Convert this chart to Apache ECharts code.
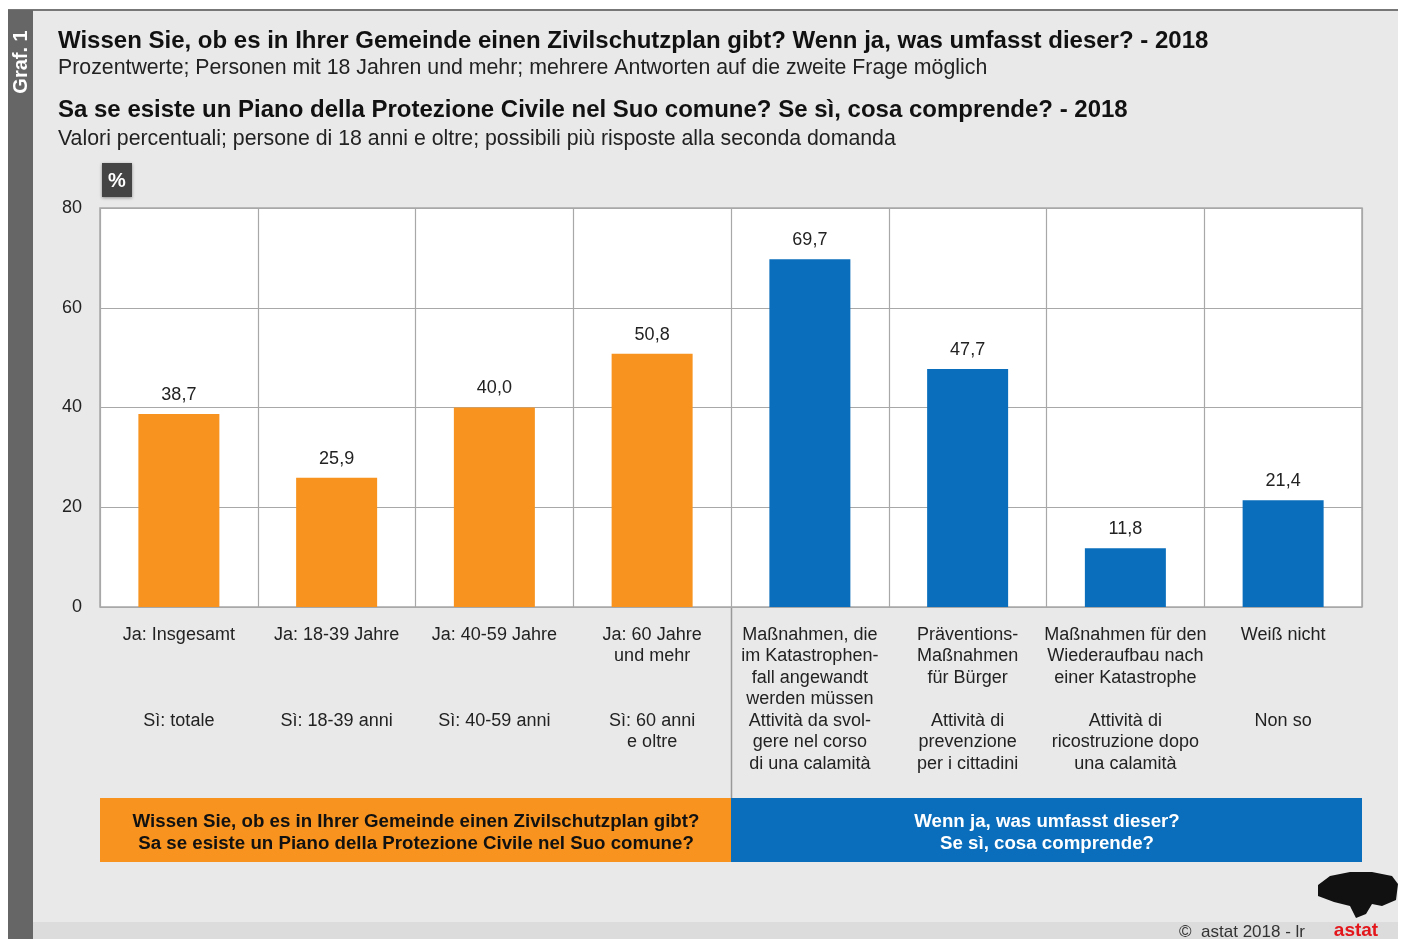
<!DOCTYPE html>
<html>
<head>
<meta charset="utf-8">
<style>
  html, body { margin: 0; padding: 0; background: #fff; }
  #chart { width: 1402px; height: 939px; }
</style>
<script src="https://cdn.jsdelivr.net/npm/echarts@6/dist/echarts.min.js"></script>
</head>
<body>
<div id="chart"></div>
<script>
// categories: german / italian label text
const categories = ['insgesamt', '18-39', '40-59', '60+', 'katastrophe', 'praevention', 'wiederaufbau', 'weiss_nicht'];
const labelsDe = [
  'Ja: Insgesamt',
  'Ja: 18-39 Jahre',
  'Ja: 40-59 Jahre',
  'Ja: 60 Jahre\nund mehr',
  'Maßnahmen, die\nim Katastrophen-\nfall angewandt\nwerden müssen',
  'Präventions-\nMaßnahmen\nfür Bürger',
  'Maßnahmen für den\nWiederaufbau nach\neiner Katastrophe',
  'Weiß nicht'
];
const labelsIt = [
  'Sì: totale',
  'Sì: 18-39 anni',
  'Sì: 40-59 anni',
  'Sì: 60 anni\ne oltre',
  'Attività da svol-\ngere nel corso\ndi una calamità',
  'Attività di\nprevenzione\nper i cittadini',
  'Attività di\nricostruzione dopo\nuna calamità',
  'Non so'
];
const values = [38.7, 25.9, 40.0, 50.8, 69.7, 47.7, 11.8, 21.4];
// first 4 = question 1 (orange), rest = question 2 (blue)
const groups = ['q1', 'q1', 'q1', 'q1', 'q2', 'q2', 'q2', 'q2'];
const yTicks = [0, 20, 40, 60, 80];

const ORANGE = '#f7931e';
const BLUE = '#0a6ebd';
const FONT = '"Liberation Sans", Arial, sans-serif';

const chart = echarts.init(document.getElementById('chart'));

function catLabel(value, idx) {
  const de = labelsDe[idx].split('\n');
  while (de.length < 4) de.push('');
  return de.join('\n') + '\n' + labelsIt[idx];
}

const option = {
  backgroundColor: '#fff',
  textStyle: { fontFamily: FONT },
  grid: {
    left: 100, right: 40, top: 208, bottom: 332,
    show: true, backgroundColor: '#fff', borderColor: '#a8a8a8', borderWidth: 1.5
  },
  xAxis: {
    type: 'category',
    data: categories,
    axisLine: { show: false },
    axisTick: { show: false },
    splitLine: { show: true, interval: 0, lineStyle: { color: '#a8a8a8', width: 1.2 } },
    axisLabel: {
      interval: 0,
      margin: 17,
      color: '#222',
      fontSize: 18,
      lineHeight: 21.5,
      fontFamily: FONT,
      formatter: catLabel
    }
  },
  yAxis: {
    type: 'value',
    min: yTicks[0],
    max: yTicks[yTicks.length - 1],
    interval: 20,
    axisLine: { show: false },
    axisTick: { show: false },
    splitLine: { lineStyle: { color: '#a8a8a8', width: 1.2 } },
    axisLabel: { color: '#222', fontSize: 18, margin: 18, fontFamily: FONT }
  },
  series: [{
    type: 'bar',
    barWidth: 81,
    data: values.map((v, i) => ({
      value: v,
      itemStyle: { color: groups[i] === 'q1' ? ORANGE : BLUE }
    })),
    label: {
      show: true,
      position: 'top',
      distance: 10,
      color: '#222',
      fontSize: 18,
      fontFamily: FONT,
      formatter: p => p.value.toFixed(1).replace('.', ',')
    }
  }],
  graphic: [
    // panel background
    { type: 'rect', z: -10, shape: { x: 8, y: 10, width: 1390, height: 929 }, style: { fill: '#e9e9e9' } },
    { type: 'line', z: -9, shape: { x1: 8, y1: 10, x2: 1398, y2: 10 }, style: { stroke: '#777', lineWidth: 2 } },
    { type: 'rect', z: -9, shape: { x: 33, y: 922, width: 1365, height: 17 }, style: { fill: '#dcdcdc' } },
    { type: 'rect', z: -8, shape: { x: 8, y: 10, width: 25, height: 929 }, style: { fill: '#666' } },
    {
      type: 'text', x: 21, y: 62, rotation: Math.PI / 2,
      style: { text: 'Graf. 1', fill: '#fff', font: 'bold 20px ' + FONT, align: 'center', verticalAlign: 'middle' }
    },
    // titles
    { type: 'text', x: 58, y: 41, style: { text: 'Wissen Sie, ob es in Ihrer Gemeinde einen Zivilschutzplan gibt? Wenn ja, was umfasst dieser? - 2018', fill: '#111', font: 'bold 24px ' + FONT, verticalAlign: 'middle' } },
    { type: 'text', x: 58, y: 68, style: { text: 'Prozentwerte; Personen mit 18 Jahren und mehr; mehrere Antworten auf die zweite Frage möglich', fill: '#222', font: '21.3px ' + FONT, verticalAlign: 'middle' } },
    { type: 'text', x: 58, y: 110, style: { text: 'Sa se esiste un Piano della Protezione Civile nel Suo comune? Se sì, cosa comprende? - 2018', fill: '#111', font: 'bold 24px ' + FONT, verticalAlign: 'middle' } },
    { type: 'text', x: 58, y: 139, style: { text: 'Valori percentuali; persone di 18 anni e oltre; possibili più risposte alla seconda domanda', fill: '#222', font: '21.3px ' + FONT, verticalAlign: 'middle' } },
    // % box
    { type: 'rect', shape: { x: 102, y: 163, width: 30, height: 34 }, style: { fill: '#444', shadowBlur: 3, shadowColor: 'rgba(0,0,0,0.4)', shadowOffsetY: 1 } },
    { type: 'text', x: 117, y: 181, style: { text: '%', fill: '#fff', font: 'bold 20px ' + FONT, align: 'center', verticalAlign: 'middle' } },
    // divider between groups
    { type: 'line', shape: { x1: 731.5, y1: 607, x2: 731.5, y2: 798 }, style: { stroke: '#999', lineWidth: 1.5 } },
    // bottom group boxes
    { type: 'rect', shape: { x: 100, y: 798, width: 631, height: 64 }, style: { fill: ORANGE } },
    { type: 'text', x: 416, y: 833, style: { text: 'Wissen Sie, ob es in Ihrer Gemeinde einen Zivilschutzplan gibt?\nSa se esiste un Piano della Protezione Civile nel Suo comune?', fill: '#111', font: 'bold 18.7px ' + FONT, lineHeight: 22, align: 'center', verticalAlign: 'middle' } },
    { type: 'rect', shape: { x: 731, y: 798, width: 631, height: 64 }, style: { fill: BLUE } },
    { type: 'text', x: 1047, y: 833, style: { text: 'Wenn ja, was umfasst dieser?\nSe sì, cosa comprende?', fill: '#fff', font: 'bold 18.7px ' + FONT, lineHeight: 22, align: 'center', verticalAlign: 'middle' } },
    // footer
    { type: 'text', x: 1305, y: 932, style: { text: '©  astat 2018 - lr', fill: '#333', font: '17px ' + FONT, align: 'right', verticalAlign: 'middle' } },
    { type: 'polygon', shape: { points: [[1318, 885], [1330, 876], [1350, 872], [1372, 872], [1392, 876], [1398, 884], [1396, 900], [1382, 906], [1372, 904], [1366, 914], [1356, 918], [1350, 906], [1334, 902], [1318, 896]] }, style: { fill: '#111' } },
    { type: 'text', x: 1356, y: 931, style: { text: 'astat', fill: '#e3161b', font: 'bold 19px ' + FONT, align: 'center', verticalAlign: 'middle' } }
  ]
};

chart.setOption(option);
</script>
</body>
</html>
